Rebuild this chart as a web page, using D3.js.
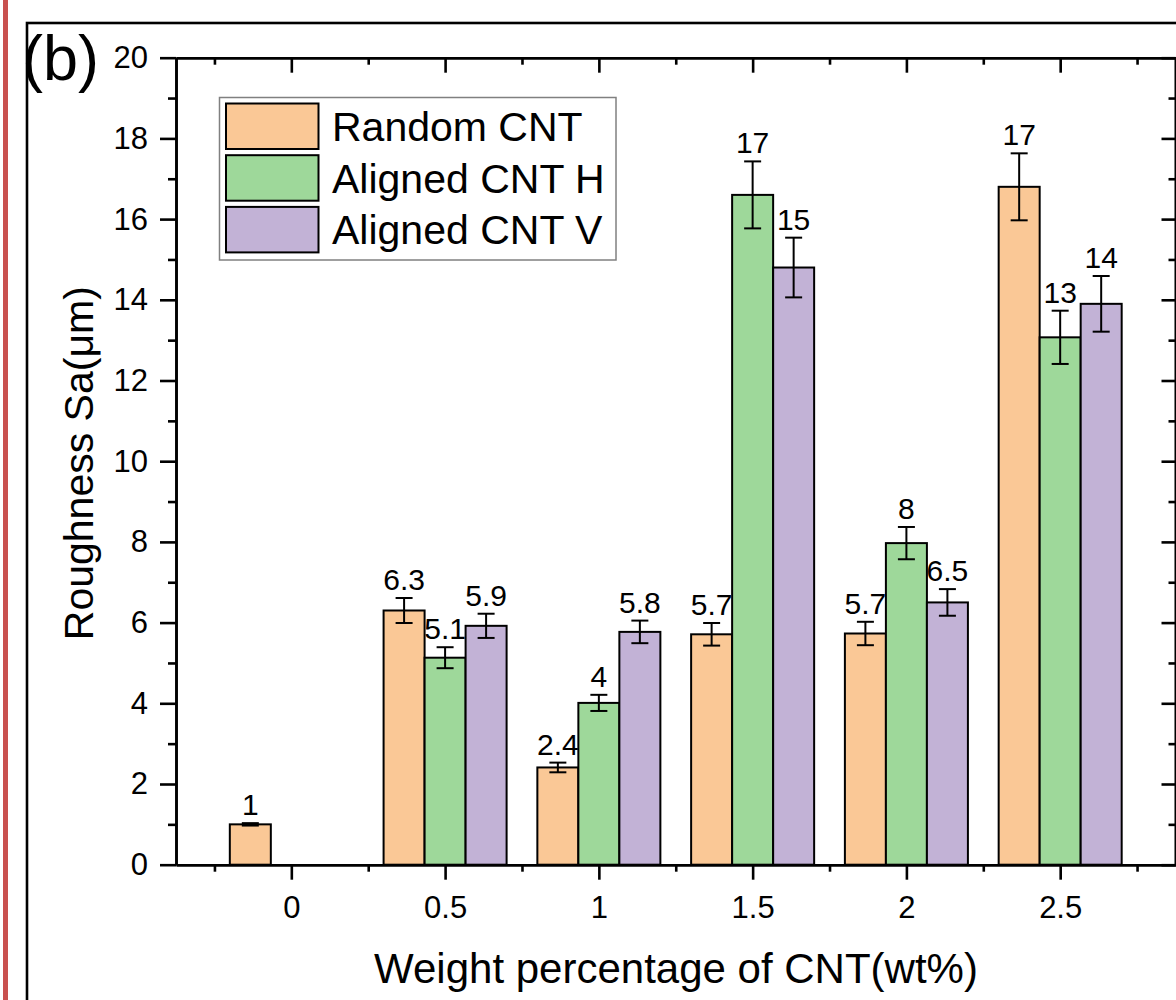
<!doctype html>
<html>
<head>
<meta charset="utf-8">
<script src="https://d3js.org/d3.v7.min.js"></script>
<style>
    body { margin: 0; background: #fff; }
    svg text { font-family: Arial, "Liberation Sans", sans-serif; fill: #000; }
    .axis path, .axis line { stroke: #000; stroke-width: 2.6; }
</style>
</head>
<body>
<script>
    // data
    var categories = [0, 0.5, 1, 1.5, 2, 2.5];
    var seriesNames = ["Random CNT", "Aligned CNT H", "Aligned CNT V"];
    var randomCNT   = [1.0, 6.3, 2.41, 5.71, 5.73, 16.8];
    var randomErr   = [0.03, 0.31, 0.12, 0.28, 0.29, 0.83];
    var alignedH    = [null, 5.13, 4.01, 16.6, 7.97, 13.07];
    var alignedHErr = [null, 0.26, 0.2, 0.83, 0.4, 0.66];
    var alignedV    = [null, 5.92, 5.77, 14.8, 6.5, 13.9];
    var alignedVErr = [null, 0.3, 0.28, 0.74, 0.33, 0.69];
    var randomLabels = ["1", "6.3", "2.4", "5.7", "5.7", "17"];
    var hLabels      = [null, "5.1", "4", "17", "8", "13"];
    var vLabels      = [null, "5.9", "5.8", "15", "6.5", "14"];
    var colors = ["#fac896", "#9ed89a", "#c2b2d6"];
    var yTicks = [0, 2, 4, 6, 8, 10, 12, 14, 16, 18, 20];
    var yMinor = [1, 3, 5, 7, 9, 11, 13, 15, 17, 19];
    var xTicks = [0, 0.5, 1, 1.5, 2, 2.5];
    var xMinor = [-0.25, 0.25, 0.75, 1.25, 1.75, 2.25, 2.75];

    var values = [randomCNT, alignedH, alignedV];
    var errors = [randomErr, alignedHErr, alignedVErr];
    var labels = [randomLabels, hLabels, vLabels];

    var width = 1176, height = 1000;
    var plotL = 176, plotR = 1175.5, plotT = 57.7, plotB = 864.7;
    var barW = 0.4 / 3; // in x units

    var x = d3.scaleLinear().domain([-0.375, 2.875]).range([plotL, plotR]);
    var y = d3.scaleLinear().domain([0, 20]).range([plotB, plotT]);

    var svg = d3.select("body").append("svg")
        .attr("width", width)
        .attr("height", height);

    // page decorations
    svg.append("rect").attr("x", 3).attr("y", 0).attr("width", 5).attr("height", height)
        .attr("fill", "#c9514f");
    svg.append("rect").attr("x", 27).attr("y", 23).attr("width", 1300).attr("height", 1100)
        .attr("fill", "none").attr("stroke", "#000").attr("stroke-width", 2.6);
    svg.append("text").attr("x", 22).attr("y", 80)
        .style("font-size", "63px").text("(b)");

    // flatten bars
    var bars = [];
    categories.forEach(function (c, i) {
        values.forEach(function (s, k) {
            if (s[i] == null) return;
            bars.push({ cat: c, k: k, v: s[i], e: errors[k][i], label: labels[k][i] });
        });
    });

    function bx(d) { return x(d.cat + (d.k - 1.5) * barW); }
    function bc(d) { return x(d.cat + (d.k - 1) * barW); }

    svg.selectAll("rect.bar")
        .data(bars)
        .enter().append("rect")
        .attr("class", "bar")
        .attr("x", bx)
        .attr("y", function (d) { return y(d.v); })
        .attr("width", function (d) { return x(d.cat + barW) - x(d.cat); })
        .attr("height", function (d) { return y(0) - y(d.v); })
        .attr("fill", function (d) { return colors[d.k]; })
        .attr("stroke", "#000")
        .attr("stroke-width", 2);

    var err = svg.selectAll("g.err")
        .data(bars)
        .enter().append("g")
        .attr("class", "err")
        .attr("stroke", "#000")
        .attr("stroke-width", 2);
    err.append("line")
        .attr("x1", bc).attr("x2", bc)
        .attr("y1", function (d) { return y(d.v - d.e); })
        .attr("y2", function (d) { return y(d.v + d.e); });
    err.append("line")
        .attr("x1", function (d) { return bc(d) - 8.5; })
        .attr("x2", function (d) { return bc(d) + 8.5; })
        .attr("y1", function (d) { return y(d.v + d.e); })
        .attr("y2", function (d) { return y(d.v + d.e); });
    err.append("line")
        .attr("x1", function (d) { return bc(d) - 8.5; })
        .attr("x2", function (d) { return bc(d) + 8.5; })
        .attr("y1", function (d) { return y(d.v - d.e); })
        .attr("y2", function (d) { return y(d.v - d.e); });

    svg.selectAll("text.val")
        .data(bars)
        .enter().append("text")
        .attr("class", "val")
        .attr("x", bc)
        .attr("y", function (d) { return y(d.v + d.e) - 8; })
        .attr("text-anchor", "middle")
        .style("font-size", "30px")
        .text(function (d) { return d.label; });

    // axes
    function styleAxis(g) {
        g.attr("class", "axis").selectAll("text")
            .style("font-size", "31px")
            .style("font-family", "Arial, 'Liberation Sans', sans-serif")
            .attr("fill", "#000");
    }

    svg.append("g").attr("transform", "translate(0," + plotB + ")")
        .call(d3.axisBottom(x).tickValues(xTicks).tickSize(15).tickSizeOuter(0).tickPadding(16)
            .tickFormat(function (d) { return d3.format("")(d); }))
        .call(styleAxis);
    svg.append("g").attr("transform", "translate(0," + plotB + ")")
        .call(d3.axisBottom(x).tickValues(xMinor).tickSize(7).tickSizeOuter(0).tickFormat(""))
        .call(styleAxis);

    svg.append("g").attr("transform", "translate(0," + plotT + ")")
        .call(d3.axisTop(x).tickValues(xTicks).tickSize(-15).tickSizeOuter(0).tickFormat(""))
        .call(styleAxis);
    svg.append("g").attr("transform", "translate(0," + plotT + ")")
        .call(d3.axisTop(x).tickValues(xMinor).tickSize(-7).tickSizeOuter(0).tickFormat(""))
        .call(styleAxis);

    svg.append("g").attr("transform", "translate(" + plotL + ",0)")
        .call(d3.axisLeft(y).tickValues(yTicks).tickSize(16).tickSizeOuter(0).tickPadding(12))
        .call(styleAxis);
    svg.append("g").attr("transform", "translate(" + plotL + ",0)")
        .call(d3.axisLeft(y).tickValues(yMinor).tickSize(8).tickSizeOuter(0).tickFormat(""))
        .call(styleAxis);

    svg.append("g").attr("transform", "translate(" + plotR + ",0)")
        .call(d3.axisRight(y).tickValues(yTicks).tickSize(-14).tickSizeOuter(0).tickFormat(""))
        .call(styleAxis);
    svg.append("g").attr("transform", "translate(" + plotR + ",0)")
        .call(d3.axisRight(y).tickValues(yMinor).tickSize(-7).tickSizeOuter(0).tickFormat(""))
        .call(styleAxis);

    // axis titles
    svg.append("text")
        .attr("transform", "translate(93," + ((plotT + plotB) / 2 + 2) + ") rotate(-90)")
        .attr("text-anchor", "middle")
        .style("font-size", "41px")
        .text("Roughness Sa(\u03bcm)");
    svg.append("text")
        .attr("x", 676).attr("y", 983)
        .attr("text-anchor", "middle")
        .style("font-size", "42px")
        .text("Weight percentage of CNT(wt%)");

    // legend
    var legend = svg.append("g");
    legend.append("rect")
        .attr("x", 219.5).attr("y", 97.5).attr("width", 396.5).attr("height", 162.5)
        .attr("fill", "#fff").attr("stroke", "#808080").attr("stroke-width", 1.5);
    var item = legend.selectAll("g.item")
        .data(seriesNames)
        .enter().append("g")
        .attr("class", "item")
        .attr("transform", function (d, i) { return "translate(0," + (103.5 + i * 51.7) + ")"; });
    item.append("rect")
        .attr("x", 226).attr("y", 0).attr("width", 92.5).attr("height", 45.5)
        .attr("fill", function (d, i) { return colors[i]; })
        .attr("stroke", "#000").attr("stroke-width", 2);
    item.append("text")
        .attr("x", 332).attr("y", 37.5)
        .style("font-size", "41px")
        .text(function (d) { return d; });
</script>
</body>
</html>
